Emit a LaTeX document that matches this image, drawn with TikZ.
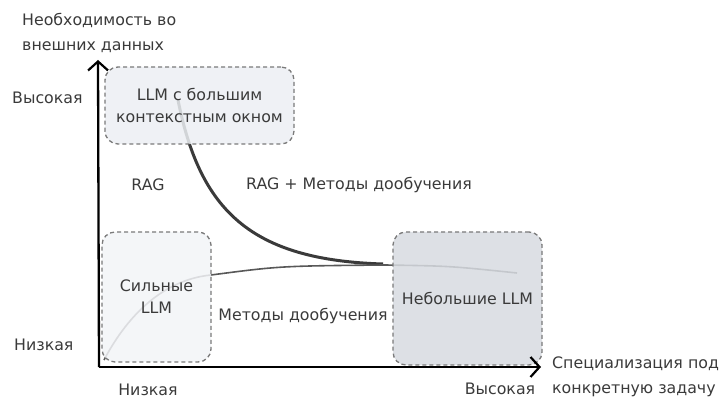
\documentclass[tikz,border=0pt]{standalone}
\usepackage{fontspec}
\setmainfont{DejaVu Sans}
\usetikzlibrary{arrows.meta,positioning}
\definecolor{inkgray}{HTML}{3A3A3A}
\definecolor{edgegray}{HTML}{7A7A7A}
\definecolor{topfill}{HTML}{ECEFF3}
\definecolor{leftfill}{HTML}{F2F4F7}
\definecolor{rightfill}{HTML}{D7DBE1}

\begin{document}
\begin{tikzpicture}[
    x=1pt, y=-1pt,
    font=\fontsize{15.8}{25}\selectfont,
    text=inkgray,
    zone/.style={draw=edgegray, dash pattern=on 4pt off 3pt, line width=1.3pt, rounded corners=13pt, align=center, inner sep=0pt, fill opacity=0.85, text opacity=1, font=\fontsize{15.8}{22}\selectfont},
    axis/.style={line width=2.3pt, -{Straight Barb[length=9pt,width=20pt,line width=2.2pt]}},
    label/.style={align=left, inner sep=0pt},
    trend/.style={line width=1.6pt, draw=inkgray!85}
]
\useasboundingbox (0,0) rectangle (721,398);

% trends (drawn below the zones)
\coordinate (c1) at (178,100);
\coordinate (c2) at (383,264);
\coordinate (c3) at (104,360);
\coordinate (c4) at (211,275);
\coordinate (c5) at (517,273);
\draw[trend, line width=3pt, draw=inkgray] (c1) .. controls (200,210) and (250,260) .. (c2);
\draw[trend] (c3) .. controls (125,320) and (160,280) .. (c4)
  .. controls (280,266) .. (385,265) .. controls (450,266) .. (c5);

% zones
\node[zone, fill=topfill, minimum width=189pt, minimum height=77pt] (big) at (199.5,105.5) {LLM с большим\\контекстным окном};
\node[zone, fill=leftfill, minimum width=109pt, minimum height=130pt] (strong) at (156.5,297) {Сильные\\LLM};
\node[zone, fill=rightfill, minimum width=149pt, minimum height=133pt] (small) at (467.5,298.5) {Небольшие LLM};

% axes
\coordinate (o) at (99,367);
\coordinate (ytip) at (98,60);
\coordinate (xtip) at (541,367);
\draw[axis] (o) -- (ytip);
\draw[axis] (o) -- (xtip);

% region labels
\node (rag) at (148,185) {RAG};
\node (ragft) at (359,185) {RAG + Методы дообучения};
\node (ft) at (303,316) {Методы дообучения};

% axis labels
\node[label, anchor=west] (ytitle) at (22,32.5) {Необходимость во\\внешних данных};
\node[label, anchor=west] (yhigh) at (12,98) {Высокая};
\node[label, anchor=west] (ylow) at (14,345) {Низкая};
\node[label] (xlow) at (148,390) {Низкая};
\node[label] (xhigh) at (500,389) {Высокая};
\node[label, anchor=west] (xtitle) at (552,376.5) {Специализация под\\конкретную задачу};
\end{tikzpicture}
\end{document}
